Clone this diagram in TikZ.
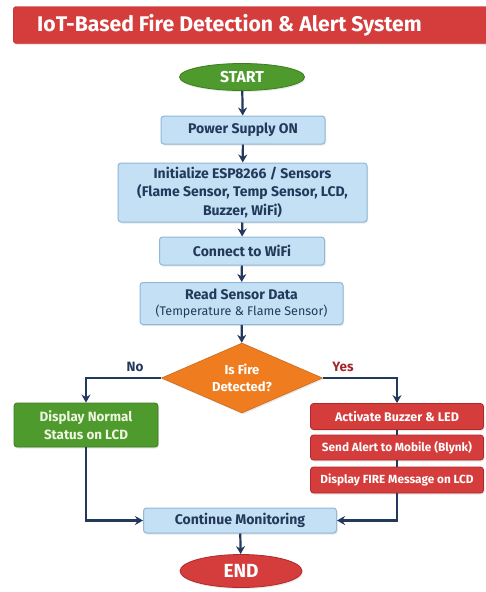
\documentclass[tikz,border=0pt]{standalone}
\usepackage{fontspec}
\setmainfont{Fira Sans}
\usetikzlibrary{shapes.geometric,arrows.meta,shadows}
\definecolor{navy}{HTML}{23395B}
\definecolor{boxblue}{HTML}{C4E0F4}
\definecolor{boxborder}{HTML}{8FB8DA}
\definecolor{fgreen}{HTML}{4E9A2C}
\definecolor{fgreenb}{HTML}{3D7D20}
\definecolor{fred}{HTML}{D53C3C}
\definecolor{fredb}{HTML}{B02A2A}
\definecolor{forange}{HTML}{EF7D1F}
\definecolor{yesred}{HTML}{A5262B}
\definecolor{greentext}{HTML}{EEF6E2}
\begin{document}
\begin{tikzpicture}[x=1pt,y=-1pt,
  shade/.style={drop shadow={opacity=0.18,shadow xshift=1pt,shadow yshift=-1.5pt}},
  bluebox/.style={draw=boxborder, fill=boxblue, line width=1pt, rounded corners=3pt, text=navy,
    font=\bfseries\fontsize{14}{18.5}\selectfont, align=center, inner sep=0pt, shade},
  redbox/.style={draw=fredb, fill=fred, line width=0.8pt, rounded corners=3pt, text=white,
    font=\bfseries\fontsize{11.8}{13}\selectfont, align=center, inner sep=0pt, shade,
    minimum width=173pt, minimum height=26pt},
  greenbox/.style={draw=fgreenb, fill=fgreen, line width=0.8pt, rounded corners=3pt, text=greentext,
    font=\bfseries\fontsize{13.4}{18}\selectfont, align=center, inner sep=0pt, shade},
  term/.style={ellipse, inner sep=0pt, text=white, shade},
  arr/.style={draw=navy, line width=2.2pt, -{Stealth[length=8pt,width=9pt]}},
  link/.style={draw=navy, line width=2.2pt},
  lbl/.style={font=\bfseries\fontsize{13.5}{15}\selectfont}
]
\useasboundingbox (0,0) rectangle (485,592);
\fill[white] (0,0) rectangle (485,592);

% title
\node[fill=fred, draw=fredb, rounded corners=3pt, minimum width=480pt, minimum height=37pt,
  anchor=west, inner sep=0pt, shade] (title) at (13,25) {};
\node[anchor=west, text=white, inner sep=0pt, font=\bfseries\fontsize{21.2}{24}\selectfont] (ttext) at (37,25)
  {IoT-Based Fire Detection \& Alert System};

% nodes
\node[term, fill=fgreen, draw=fgreenb, line width=0.8pt, minimum width=125pt, minimum height=27pt,
  font=\bfseries\fontsize{15.8}{17}\selectfont] (start) at (242,77) {START};
\node[bluebox, minimum width=164pt, minimum height=28pt] (power) at (243,130) {Power Supply ON};
\node[bluebox, minimum width=249pt, minimum height=59pt] (init) at (242.5,192.5)
  {Initialize ESP8266 / Sensors\\(Flame Sensor, Temp Sensor, LCD,\\Buzzer, WiFi)};
\node[bluebox, minimum width=165pt, minimum height=28pt] (wifi) at (242,251) {Connect to WiFi};
\node[bluebox, minimum width=203pt, minimum height=42pt, font=\fontsize{14}{16.5}\selectfont] (read) at (241.5,303.5)
  {\bfseries Read Sensor Data\\{\fontsize{12.5}{16.5}\selectfont\mdseries (Temperature \& Flame Sensor)}};
\node[diamond, aspect=2.3, fill=forange, draw=forange!85!black, line width=0.6pt, inner sep=0pt,
  minimum width=161pt, minimum height=70pt, text=white, align=center,
  font=\bfseries\fontsize{13}{16.5}\selectfont, shade] (dec) at (242,378) {Is Fire\\Detected?};
\node[greenbox, minimum width=144pt, minimum height=44pt] (normal) at (86,425)
  {Display Normal\\Status on LCD};
\node[redbox] (buzz) at (397,416.5) {\fontsize{12.5}{13}\selectfont Activate Buzzer \& LED};
\node[redbox, minimum height=25pt] (alert) at (397,447.5) {Send Alert to Mobile (Blynk)};
\node[redbox] (msg) at (397,480) {Display FIRE Message on LCD};
\node[bluebox, minimum width=193pt, minimum height=25pt] (cont) at (240,520.5) {Continue Monitoring};
\node[term, fill=fred, draw=fredb, line width=0.8pt, minimum width=122pt, minimum height=33pt,
  font=\bfseries\fontsize{19}{20}\selectfont] (end) at (241,571) {END};

% labels
\node[lbl, text=navy] (no) at (135,367) {No};
\node[lbl, text=yesred] (yes) at (343,367) {Yes};

% connectors
\draw[arr] (start) -- (power);
\draw[arr] (power) -- (init);
\draw[arr] (init) -- (wifi);
\draw[arr] (wifi) -- (read);
\draw[arr] (read) -- (dec);
\draw[arr] (dec.west) -| (normal.north);
\draw[arr] (dec.east) -| (buzz.north);
\draw[link] (buzz) -- (alert);
\draw[link] (alert) -- (msg);
\draw[arr] (normal.south) |- (cont.west);
\draw[arr] (msg.south) |- (cont.east);
\draw[arr] (cont) -- (end);
\end{tikzpicture}
\end{document}
